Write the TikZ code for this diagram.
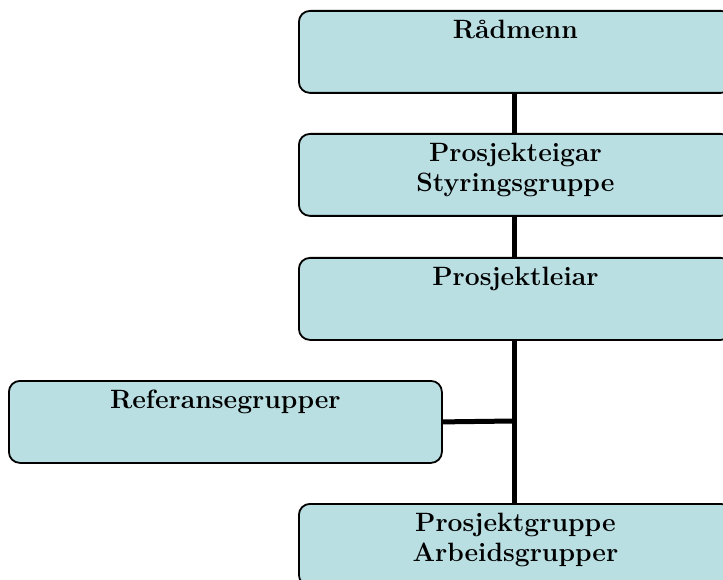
\documentclass[tikz,border=0pt]{standalone}
\usetikzlibrary{backgrounds}
\definecolor{boxfill}{HTML}{B9DFE3}
\tikzset{
  orgbox/.style={draw=black, line width=1.8pt, fill=boxfill, rounded corners=11pt,
    minimum width=433pt, minimum height=82pt, inner sep=0pt, anchor=north west},
  boxtext/.style={anchor=north, align=center, inner sep=0pt,
    font=\fontsize{26.5}{29.5}\selectfont\bfseries},
  conn/.style={line width=5pt}
}
\begin{document}
\begin{tikzpicture}[x=1pt,y=-1pt]
\useasboundingbox (0,0) rectangle (723,580);
\clip (0,0) rectangle (723,580);
\node[orgbox] (r) at (298,10) {};
\node[orgbox] (p) at (298,133) {};
\node[orgbox] (l) at (298,257) {};
\node[orgbox] (ref) at (8,380) {};
\node[orgbox] (g) at (298,503) {};
\coordinate (j) at (514,421);
\begin{scope}[on background layer]
\draw[conn] (r.south -| j) -- (g.north -| j);
\draw[conn] (ref.east) -- (j);
\end{scope}
\node[boxtext] (rt) at ([yshift=-10pt]r.north) {Rådmenn};
\node[boxtext] (pt) at ([yshift=-10pt]p.north) {Prosjekteigar\\Styringsgruppe};
\node[boxtext] (lt) at ([yshift=-10pt]l.north) {Prosjektleiar};
\node[boxtext] (reft) at ([yshift=-10pt]ref.north) {Referansegrupper};
\node[boxtext] (gt) at ([yshift=-10pt]g.north) {Prosjektgruppe\\Arbeidsgrupper};
\end{tikzpicture}
\end{document}
